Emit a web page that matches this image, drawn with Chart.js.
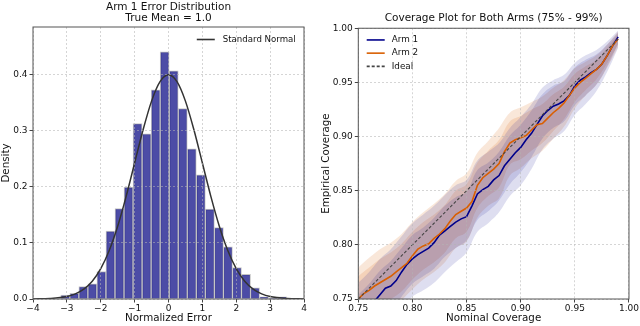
<!DOCTYPE html>
<html>
<head>
<meta charset="utf-8">
<script src="https://cdn.jsdelivr.net/npm/chart.js@4.4.1/dist/chart.umd.min.js"></script>
<style>
  body { margin: 0; background: #fff; }
  .box { position: absolute; top: 0; width: 320px; height: 326px; }
  #left { left: 0; }
  #right { left: 320px; }
</style>
</head>
<body>
<div class="box" id="left"><canvas id="histChart" width="320" height="326"></canvas></div>
<div class="box" id="right"><canvas id="covChart" width="320" height="326"></canvas></div>
<script>
// histogram of normalized error (bin centres and density)
const binCenters = [-3.047, -2.780, -2.513, -2.247, -1.980, -1.713, -1.446, -1.180, -0.913, -0.646,
  -0.380, -0.113, 0.154, 0.421, 0.687, 0.954, 1.221, 1.488, 1.754, 2.021, 2.288, 2.554, 2.821, 3.088, 3.355];
const binDensity = [0.007, 0.010, 0.022, 0.027, 0.049, 0.121, 0.161, 0.199, 0.312, 0.294,
  0.372, 0.440, 0.406, 0.339, 0.267, 0.221, 0.160, 0.127, 0.093, 0.056, 0.044, 0.020, 0.004, 0.001, 0.004];

// standard normal reference curve
const normX = [-4, -3.5, -3, -2.75, -2.5, -2.25, -2, -1.75, -1.5, -1.25, -1, -0.75, -0.5, -0.25, 0,
  0.25, 0.5, 0.75, 1, 1.25, 1.5, 1.75, 2, 2.25, 2.5, 2.75, 3, 3.5, 4];
const normY = [0.0001, 0.0009, 0.0044, 0.0091, 0.0175, 0.0317, 0.054, 0.0863, 0.1295, 0.1826, 0.242, 0.3011, 0.3521, 0.3867, 0.3989,
  0.3867, 0.3521, 0.3011, 0.242, 0.1826, 0.1295, 0.0863, 0.054, 0.0317, 0.0175, 0.0091, 0.0044, 0.0009, 0.0001];

// coverage curves
const covX = [0.750, 0.755, 0.760, 0.765, 0.770, 0.775, 0.780, 0.785, 0.790, 0.795, 0.800, 0.805, 0.810, 0.815, 0.820, 0.825,
  0.830, 0.835, 0.840, 0.845, 0.850, 0.855, 0.860, 0.865, 0.870, 0.875, 0.880, 0.885, 0.890, 0.895, 0.900, 0.905,
  0.910, 0.915, 0.920, 0.925, 0.930, 0.935, 0.940, 0.945, 0.950, 0.955, 0.960, 0.965, 0.970, 0.975, 0.980, 0.985, 0.990];
const arm1Cov = [0.733, 0.738, 0.743, 0.748, 0.754, 0.760, 0.762, 0.767, 0.775, 0.782, 0.787, 0.791, 0.794, 0.797, 0.802, 0.809,
  0.813, 0.817, 0.821, 0.824, 0.826, 0.836, 0.847, 0.851, 0.854, 0.860, 0.864, 0.873, 0.879, 0.885, 0.890, 0.897,
  0.903, 0.911, 0.919, 0.924, 0.928, 0.930, 0.933, 0.938, 0.947, 0.952, 0.955, 0.959, 0.962, 0.967, 0.975, 0.984, 0.992];
const arm2Cov = [0.750, 0.755, 0.758, 0.762, 0.765, 0.768, 0.771, 0.775, 0.779, 0.783, 0.790, 0.796, 0.799, 0.801, 0.806, 0.810,
  0.815, 0.822, 0.828, 0.831, 0.834, 0.840, 0.855, 0.862, 0.866, 0.870, 0.875, 0.886, 0.894, 0.897, 0.899, 0.901,
  0.906, 0.911, 0.912, 0.917, 0.922, 0.926, 0.931, 0.938, 0.945, 0.950, 0.954, 0.958, 0.962, 0.967, 0.975, 0.984, 0.990];
const idealX = [0.75, 0.99];
const idealY = [0.75, 0.99];

// uncertainty bands
const bandX = [0.75, 0.76, 0.77, 0.78, 0.79, 0.80, 0.81, 0.82, 0.83, 0.84, 0.85, 0.86, 0.87,
  0.88, 0.89, 0.90, 0.91, 0.92, 0.93, 0.94, 0.95, 0.96, 0.97, 0.98, 0.99];
const arm1OuterLo = [0.700, 0.708, 0.718, 0.726, 0.740, 0.752, 0.758, 0.765, 0.775, 0.784, 0.793, 0.812, 0.820,
  0.830, 0.845, 0.855, 0.870, 0.888, 0.898, 0.905, 0.920, 0.930, 0.942, 0.960, 0.982];
const arm1OuterHi = [0.765, 0.775, 0.787, 0.796, 0.808, 0.820, 0.828, 0.836, 0.846, 0.855, 0.860, 0.878, 0.886,
  0.894, 0.908, 0.918, 0.930, 0.945, 0.952, 0.957, 0.968, 0.975, 0.980, 0.988, 0.998];
const arm1InnerLo = [0.712, 0.720, 0.731, 0.739, 0.752, 0.764, 0.771, 0.778, 0.789, 0.797, 0.804, 0.823, 0.831,
  0.841, 0.856, 0.867, 0.881, 0.898, 0.908, 0.914, 0.929, 0.938, 0.948, 0.965, 0.986];
const arm1InnerHi = [0.754, 0.764, 0.776, 0.785, 0.797, 0.809, 0.816, 0.825, 0.836, 0.844, 0.849, 0.869, 0.876,
  0.886, 0.901, 0.911, 0.924, 0.939, 0.947, 0.951, 0.964, 0.971, 0.976, 0.985, 0.996];
const arm2OuterLo = [0.721, 0.728, 0.735, 0.741, 0.749, 0.759, 0.768, 0.775, 0.784, 0.797, 0.803, 0.825, 0.836,
  0.843, 0.864, 0.871, 0.880, 0.887, 0.898, 0.909, 0.926, 0.938, 0.948, 0.964, 0.983];
const arm2OuterHi = [0.779, 0.788, 0.796, 0.802, 0.810, 0.821, 0.830, 0.838, 0.847, 0.859, 0.866, 0.885, 0.896,
  0.908, 0.922, 0.927, 0.932, 0.937, 0.945, 0.952, 0.963, 0.969, 0.975, 0.985, 0.997];
const arm2InnerLo = [0.729, 0.737, 0.744, 0.750, 0.757, 0.768, 0.777, 0.784, 0.793, 0.806, 0.812, 0.834, 0.845,
  0.853, 0.874, 0.879, 0.887, 0.894, 0.905, 0.916, 0.932, 0.943, 0.953, 0.968, 0.985];
const arm2InnerHi = [0.771, 0.779, 0.787, 0.793, 0.801, 0.812, 0.821, 0.828, 0.837, 0.850, 0.856, 0.876, 0.887,
  0.897, 0.914, 0.919, 0.925, 0.930, 0.939, 0.946, 0.958, 0.965, 0.971, 0.982, 0.995];

const FONT = 'DejaVu Sans';
Chart.defaults.font.family = FONT;
Chart.defaults.color = '#111';
Chart.defaults.animation = false;

function pts(xs, ys) {
  return xs.map((x, i) => ({ x: x, y: ys[i] }));
}
function minus(v) {
  return String(v).replace('-', '\u2212');
}

// frame around the plot area (all four spines)
const framePlugin = {
  id: 'frame',
  afterDraw(chart) {
    const a = chart.chartArea;
    const ctx = chart.ctx;
    ctx.save();
    ctx.strokeStyle = '#555';
    ctx.lineWidth = 1;
    ctx.strokeRect(a.left, a.top, a.right - a.left, a.bottom - a.top);
    ctx.restore();
  }
};

// legend drawn inside the plot area, matplotlib style
const insideLegend = {
  id: 'insideLegend',
  afterDraw(chart, args, opts) {
    if (!opts.items) return;
    const a = chart.chartArea;
    const ctx = chart.ctx;
    ctx.save();
    ctx.font = opts.size + 'px ' + FONT;
    ctx.textBaseline = 'middle';
    opts.items.forEach((it, i) => {
      const y = a.top + opts.top + i * 13.2;
      let tx, lx;
      if (opts.side === 'right') {
        const w = ctx.measureText(it.label).width;
        tx = a.right - opts.pad - w;
        lx = tx - 26;
      } else {
        lx = a.left + opts.pad;
        tx = lx + 25;
      }
      ctx.strokeStyle = it.color;
      ctx.lineWidth = 1.6;
      ctx.setLineDash(it.dash || []);
      ctx.beginPath();
      ctx.moveTo(lx, y);
      ctx.lineTo(lx + 18, y);
      ctx.stroke();
      ctx.setLineDash([]);
      ctx.fillStyle = '#111';
      ctx.textAlign = 'left';
      ctx.fillText(it.label, tx, y);
    });
    ctx.restore();
  }
};

function gridOpts() {
  return { color: 'rgba(180,180,180,0.7)', lineWidth: 0.8, z: 1, tickLength: 3.5, tickColor: '#444', tickWidth: 1, offset: false };
}
const TICK = 9;

// ---- left: histogram ----
new Chart(document.getElementById('histChart'), {
  type: 'bar',
  data: {
    datasets: [
      {
        type: 'line',
        label: 'Standard Normal',
        data: pts(normX, normY),
        borderColor: '#333',
        borderWidth: 1.5,
        pointRadius: 0,
        cubicInterpolationMode: 'monotone',
        order: 0
      },
      {
        label: 'Error',
        data: pts(binCenters, binDensity),
        backgroundColor: 'rgba(0,0,128,0.7)',
        borderColor: 'rgba(190,190,190,0.9)',
        borderWidth: 1,
        barPercentage: 1,
        categoryPercentage: 1,
        order: 1
      }
    ]
  },
  options: {
    responsive: false,
    layout: { padding: { left: 0, right: 16, top: 0, bottom: 0 } },
    scales: {
      x: {
        type: 'linear', min: -4, max: 4, offset: false,
        grid: gridOpts(),
        border: { display: false, dash: [2, 2] },
        ticks: { stepSize: 1, padding: 1, font: { size: TICK }, callback: (v) => minus(v) },
        title: { display: true, text: 'Normalized Error', font: { size: 10.3 }, padding: { top: 0, bottom: 1.5 } },
        afterFit: (s) => { s.height = 27; }
      },
      y: {
        min: 0, max: 0.484,
        grid: gridOpts(),
        border: { display: false, dash: [2, 2] },
        ticks: { stepSize: 0.1, includeBounds: false, padding: 2, font: { size: TICK }, callback: (v) => v.toFixed(1) },
        title: { display: true, text: 'Density', font: { size: 10.3 }, padding: { top: 0, bottom: 0 } },
        afterFit: (s) => { s.width = 33; }
      }
    },
    plugins: {
      legend: { display: false },
      tooltip: { enabled: false },
      title: {
        display: true, fullSize: false,
        text: ['Arm 1 Error Distribution', 'True Mean = 1.0'],
        color: '#111',
        font: { size: 10.5, weight: 'normal', lineHeight: 1.1 },
        padding: { top: 1, bottom: 2.9 }
      },
      insideLegend: { side: 'right', pad: 8.3, top: 12.5, size: 8.6, items: [{ label: 'Standard Normal', color: '#333' }] }
    }
  },
  plugins: [framePlugin, insideLegend]
});

// ---- right: coverage ----
function band(xs, ys, color, fill) {
  return {
    data: pts(xs, ys),
    borderWidth: 0,
    pointRadius: 0,
    tension: 0.4,
    backgroundColor: color,
    fill: fill,
    order: 5
  };
}
const blueBand = 'rgba(0,0,139,0.13)';
const orangeBand = 'rgba(217,95,2,0.15)';

new Chart(document.getElementById('covChart'), {
  type: 'line',
  data: {
    datasets: [
      band(bandX, arm1OuterHi, blueBand, '+1'),
      band(bandX, arm1OuterLo, blueBand, false),
      band(bandX, arm1InnerHi, blueBand, '+1'),
      band(bandX, arm1InnerLo, blueBand, false),
      band(bandX, arm2OuterHi, orangeBand, '+1'),
      band(bandX, arm2OuterLo, orangeBand, false),
      band(bandX, arm2InnerHi, orangeBand, '+1'),
      band(bandX, arm2InnerLo, orangeBand, false),
      { label: 'Arm 1', data: pts(covX, arm1Cov), borderColor: '#00008b', borderWidth: 1.6, pointRadius: 0, fill: false, order: 2 },
      { label: 'Arm 2', data: pts(covX, arm2Cov), borderColor: '#d95f02', borderWidth: 1.6, pointRadius: 0, fill: false, order: 1 },
      { label: 'Ideal', data: pts(idealX, idealY), borderColor: '#444', borderWidth: 1.1, borderDash: [3, 2], pointRadius: 0, fill: false, order: 0 }
    ]
  },
  options: {
    responsive: false,
    layout: { padding: { left: 0, right: 10, top: 0, bottom: 0 } },
    scales: {
      x: {
        type: 'linear', min: 0.75, max: 1.0,
        grid: gridOpts(),
        border: { display: false, dash: [2, 2] },
        ticks: { stepSize: 0.05, padding: 1, font: { size: TICK }, callback: (v) => v.toFixed(2) },
        title: { display: true, text: 'Nominal Coverage', font: { size: 10.3 }, padding: { top: 0, bottom: 1.5 } },
        afterFit: (s) => { s.height = 27; }
      },
      y: {
        min: 0.75, max: 1.0,
        grid: gridOpts(),
        border: { display: false, dash: [2, 2] },
        ticks: { stepSize: 0.05, padding: 2, font: { size: TICK }, callback: (v) => v.toFixed(2) },
        title: { display: true, text: 'Empirical Coverage', font: { size: 10.3 }, padding: { top: 0.5, bottom: 0 } },
        afterFit: (s) => { s.width = 38.3; }
      }
    },
    plugins: {
      legend: { display: false },
      tooltip: { enabled: false },
      title: {
        display: true, fullSize: false,
        text: 'Coverage Plot for Both Arms (75% - 99%)',
        color: '#111',
        font: { size: 10.5, weight: 'normal', lineHeight: 1.1 },
        padding: { top: 12.7, bottom: 4 }
      },
      insideLegend: {
        side: 'left', pad: 8.4, top: 11.7, size: 8.8, items: [
          { label: 'Arm 1', color: '#00008b' },
          { label: 'Arm 2', color: '#d95f02' },
          { label: 'Ideal', color: '#444', dash: [3, 2] }
        ]
      }
    }
  },
  plugins: [framePlugin, insideLegend]
});
</script>
</body>
</html>
